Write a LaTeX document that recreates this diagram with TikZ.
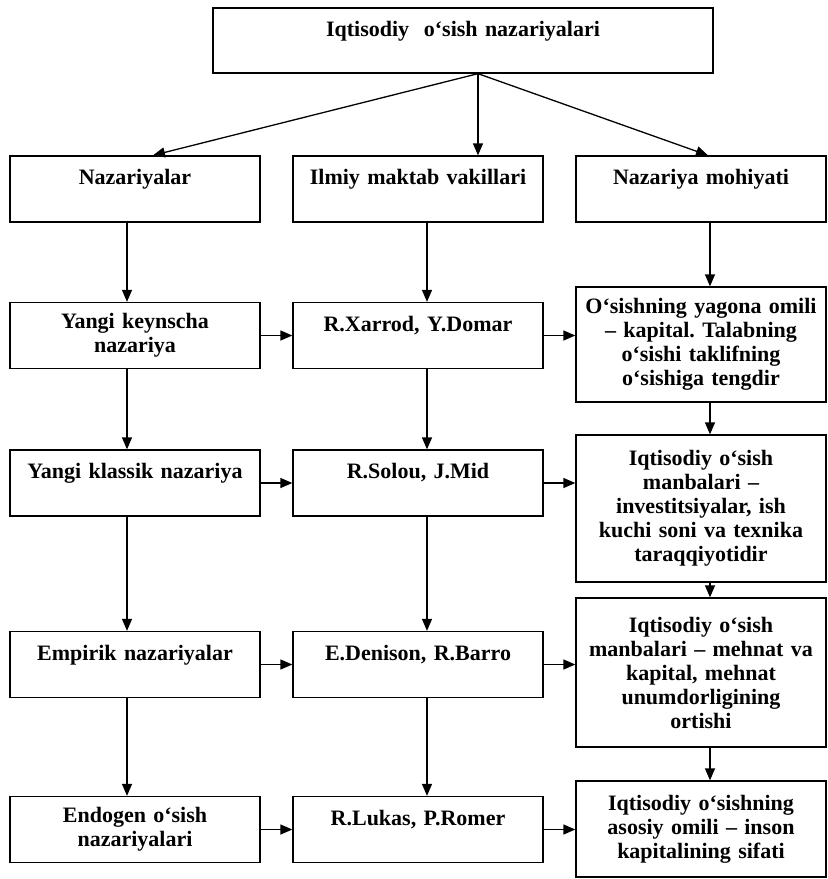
\documentclass[tikz,border=0pt]{standalone}
\usepackage{fontspec}
\setmainfont{Liberation Serif}
\usetikzlibrary{arrows.meta,positioning}
\frenchspacing

\begin{document}
\begin{tikzpicture}[x=1pt,y=-1pt,
    box/.style={draw,line width=1.3pt,minimum width=250pt,text width=240pt,
      inner sep=2pt,align=center,font=\fontsize{22}{24}\selectfont\bfseries},
    row/.style={box,minimum height=66pt},
    arr/.style={line width=1.3pt,-{Triangle[length=12pt,width=10pt]}}]
 \useasboundingbox (0,0) rectangle (828,879);
 \node[box,minimum width=500pt,text width=480pt,minimum height=65pt] (IOS) at (463,40.5)
  {Iqtisodiy~ o‘sish nazariyalari\\\mbox{}};
 % ustunlar sarlavhasi
 \node[row] (NAZ0) at (135,189) {Nazariyalar\\\mbox{}};
 \node[row] (VAK0) at (418,189) {Ilmiy maktab vakillari\\\mbox{}};
 \node[row] (MOH0) at (701,189) {Nazariya mohiyati\\\mbox{}};
 % nazariyalar
 \node[row] (NAZ1) at (135,335.5) {Yangi keynscha\\nazariya};
 \node[row] (NAZ2) at (135,483) {Yangi klassik nazariya\\\mbox{}};
 \node[row] (NAZ3) at (135,664.5) {Empirik nazariyalar\\\mbox{}};
 \node[row] (NAZ4) at (135,829.5) {Endogen o‘sish\\nazariyalari};
 % vakillar
 \node[row] (VAK1) at (418,335.5) {R.Xarrod, Y.Domar\\\mbox{}};
 \node[row] (VAK2) at (418,483) {R.Solou, J.Mid\\\mbox{}};
 \node[row] (VAK3) at (418,664.5) {E.Denison, R.Barro\\\mbox{}};
 \node[row] (VAK4) at (418,829.5) {R.Lukas, P.Romer\\\mbox{}};
 % mohiyati
 \node[box,minimum height=115pt] (MOH1) at (701,344.5)
  {O‘sishning yagona omili\\– kapital. Talabning\\o‘sishi taklifning\\o‘sishiga tengdir};
 \node[box,minimum height=147pt] (MOH2) at (701,508.5)
  {Iqtisodiy o‘sish\\manbalari –\\investitsiyalar, ish\\kuchi soni va texnika\\taraqqiyotidir};
 \node[box,minimum height=149pt] (MOH3) at (701,672.5)
  {Iqtisodiy o‘sish\\manbalari – mehnat va\\kapital, mehnat\\unumdorligining\\ortishi};
 \node[box,minimum height=96pt] (MOH4) at (701,829)
  {Iqtisodiy o‘sishning\\asosiy omili – inson\\kapitalining sifati};
 % strelkalar
 \coordinate (fork) at ([xshift=15pt]IOS.south);
 \draw[arr] (fork) -- ([xshift=18pt]NAZ0.north);
 \draw[arr] (fork) -- (fork |- VAK0.north);
 \draw[arr] (fork) -- ([xshift=7pt]MOH0.north);
 \foreach \i/\j in {0/1,1/2,2/3,3/4} {
   \draw[arr] ([xshift=-8pt]NAZ\i.south) -- ([xshift=-8pt]NAZ\j.north);
   \draw[arr] ([xshift=9pt]VAK\i.south) -- ([xshift=9pt]VAK\j.north);
   \draw[arr] ([xshift=9pt]MOH\i.south) -- ([xshift=9pt]MOH\j.north);
 }
 \foreach \i in {1,...,4} {
   \draw[arr] (NAZ\i.east) -- (VAK\i.west);
   \draw[arr] (VAK\i.east) -- (VAK\i.east -| MOH\i.west);
 }
\end{tikzpicture}
\end{document}
